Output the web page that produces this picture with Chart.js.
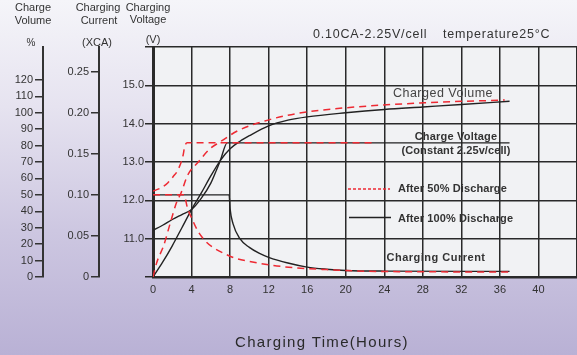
<!DOCTYPE html>
<html>
<head>
<meta charset="utf-8">
<script src="https://cdn.jsdelivr.net/npm/chart.js@4.4.1/dist/chart.umd.min.js"></script>
<style>
  html, body { margin: 0; padding: 0; }
  body {
    width: 577px; height: 355px; overflow: hidden;
    background: linear-gradient(180deg, #f5f5f9 0%, #e6e3f0 30%, #cdc7e1 65%, #b9b1d5 100%);
  }
  #wrap { width: 577px; height: 355px; position: relative; }
  canvas { display: block; }
</style>
</head>
<body>
<div id="wrap"><canvas id="chart" width="577" height="355"></canvas></div>
<script>
// hours on the x axis
const hourTicks = [0, 4, 8, 12, 16, 20, 24, 28, 32, 36, 40];

// charged volume (%), after 100% discharge
const vol100Hours  = [0, 1, 2, 3, 4, 5, 6, 7, 8, 9, 10, 12, 14, 16, 20, 24, 28, 32, 37];
const vol100Values = [0, 9, 19, 30, 41, 51, 61.5, 71, 78, 82.5, 86, 92, 95.5, 97.5, 100, 102, 103.5, 105, 107];

// charged volume (%), after 50% discharge
const vol50Hours  = [0, 0.4, 1.1, 1.8, 2.45, 2.9, 3.6, 4.7, 5.9, 6.9, 8.8, 11.6, 15, 20, 28, 36.5];
const vol50Values = [0, 9, 19, 33, 45.5, 51, 62, 70, 78, 82, 89, 95, 99.6, 103, 106, 107.7];

// charge voltage (V), after 100% discharge
const volt100Hours  = [0, 1, 2, 3, 4, 5, 6, 6.6, 7, 7.7, 37];
const volt100Values = [11.22, 11.35, 11.5, 11.63, 11.76, 12.05, 12.45, 12.8, 13.05, 13.5, 13.5];

// charge voltage (V), after 50% discharge
const volt50Hours  = [0, 1, 1.55, 2.1, 2.6, 3.1, 3.3, 3.55, 22.7];
const volt50Values = [12.24, 12.35, 12.46, 12.62, 12.8, 13.15, 13.41, 13.5, 13.5];

// charging current (xCA), after 100% discharge
const cur100Hours  = [0, 7.9, 8.0, 8.3, 9, 10, 11, 12, 14, 16, 18, 20, 24, 37];
const cur100Values = [0.1, 0.1, 0.083, 0.065, 0.047, 0.036, 0.029, 0.024, 0.017, 0.012, 0.0095, 0.008, 0.0072, 0.0068];

// charging current (xCA), after 50% discharge
const cur50Hours  = [0, 3.2, 3.6, 4, 4.7, 5.5, 6.5, 7.5, 8.5, 10, 12.5, 15, 18, 22, 26, 37];
const cur50Values = [0.1, 0.1, 0.083, 0.072, 0.055, 0.043, 0.034, 0.028, 0.023, 0.019, 0.014, 0.011, 0.009, 0.007, 0.0065, 0.006];

const FONT = "'Liberation Sans', Arial, sans-serif";
const INK = '#333';
const GRID = '#2a2a2a';
const RED = '#ee2a33';

const pts = (xs, ys) => xs.map((x, i) => ({ x: x, y: ys[i] }));

const solid = (data, axis) => ({
  data: data, yAxisID: axis, showLine: true, pointRadius: 0,
  borderColor: '#222', borderWidth: 1.4, cubicInterpolationMode: 'monotone'
});
const dashed = (data, axis) => ({
  data: data, yAxisID: axis, showLine: true, pointRadius: 0,
  borderColor: RED, borderWidth: 1.5, borderDash: [7, 5], cubicInterpolationMode: 'monotone'
});

const plotBg = {
  id: 'plotBg',
  beforeDraw(chart) {
    const { ctx, chartArea: a } = chart;
    ctx.save();
    ctx.fillStyle = '#f1f2f4';
    ctx.fillRect(a.left, a.top, a.right - a.left, a.bottom - a.top);
    ctx.restore();
  }
};

const labels = {
  id: 'labels',
  afterDraw(chart) {
    const ctx = chart.ctx;
    const txt = (s, x, y, size, bold, align, color, spacing) => {
      ctx.font = (bold ? 'bold ' : '') + size + 'px ' + FONT;
      ctx.letterSpacing = (spacing || 0) + 'px';
      ctx.textAlign = align || 'left';
      ctx.textBaseline = 'middle';
      ctx.fillStyle = color || INK;
      ctx.fillText(s, x, y);
    };
    ctx.save();
    // axis headers
    txt('Charge', 33, 8, 11, false, 'center');
    txt('Volume', 33, 21, 11, false, 'center');
    txt('%', 31, 43, 10, false, 'center');
    txt('Charging', 98, 8, 11, false, 'center');
    txt('Current', 99, 21, 11, false, 'center');
    txt('(XCA)', 97, 43, 11, false, 'center');
    txt('Charging', 148, 8, 11, false, 'center');
    txt('Voltage', 148, 20, 11, false, 'center');
    txt('(V)', 153, 40, 11, false, 'center');
    // test condition
    txt('0.10CA-2.25V/cell', 313, 35, 12.5, false, 'left', INK, 0.8);
    txt('temperature25\u00B0C', 443, 35, 12.5, false, 'left', INK, 0.8);
    // curve notes
    txt('Charged Volume', 443, 94, 12.5, false, 'center', '#444', 0.5);
    txt('Charge Voltage', 456, 137, 11, true, 'center', INK, 0.2);
    txt('(Constant 2.25v/cell)', 456, 151, 11, true, 'center', INK, 0.1);
    txt('After 50% Discharge', 398, 189, 11, true, 'left', INK, 0.1);
    txt('After 100% Discharge', 398, 219, 11, true, 'left', INK, 0.1);
    txt('Charging Current', 436, 258, 11, true, 'center', INK, 0.5);
    // legend samples
    ctx.lineWidth = 1.3;
    ctx.strokeStyle = RED;
    ctx.setLineDash([3, 2]);
    ctx.beginPath(); ctx.moveTo(348, 189); ctx.lineTo(390, 189); ctx.stroke();
    ctx.setLineDash([]);
    ctx.strokeStyle = '#222';
    ctx.beginPath(); ctx.moveTo(349, 217.5); ctx.lineTo(391, 217.5); ctx.stroke();
    // x title
    txt('Charging Time(Hours)', 322, 343, 15, false, 'center', '#2a2a2a', 1.3);
    ctx.restore();
  }
};

const sideAxis = (min, max, step, top, weight, width, fmt) => ({
  type: 'linear', position: 'left', min: min, max: max, weight: weight,
  afterBuildTicks: s => { s.ticks = s.ticks.filter(t => t.value <= top + 1e-9); },
  afterFit: s => { s.width = width; },
  grid: { drawOnChartArea: false, color: INK, lineWidth: 1.5, tickLength: 8 },
  border: { color: INK, width: 2 },
  ticks: { stepSize: step, includeBounds: false, autoSkip: false, padding: 2, color: INK,
           font: { family: FONT, size: 11 }, callback: fmt }
});

new Chart(document.getElementById('chart'), {
  type: 'scatter',
  data: {
    datasets: [
      dashed(pts(vol50Hours, vol50Values), 'yVol'),
      dashed(pts(volt50Hours, volt50Values), 'yV'),
      dashed(pts(cur50Hours, cur50Values), 'yI'),
      solid(pts(vol100Hours, vol100Values), 'yVol'),
      solid(pts(volt100Hours, volt100Values), 'yV'),
      solid(pts(cur100Hours, cur100Values), 'yI')
    ]
  },
  options: {
    responsive: false,
    animation: false,
    devicePixelRatio: 1,
    layout: { padding: { top: 47, left: 0, right: 0, bottom: 0 } },
    plugins: { legend: { display: false }, tooltip: { enabled: false } },
    scales: {
      x: {
        type: 'linear', position: 'bottom', min: 0, max: 44,
        afterFit: s => { s.height = 78; s.paddingLeft = 0; s.paddingRight = 0; },
        grid: { color: GRID, lineWidth: 1.5, drawTicks: false },
        border: { color: GRID, width: 2.5 },
        ticks: { stepSize: 4, autoSkip: false, maxRotation: 0, padding: 6, color: INK,
                 font: { family: FONT, size: 11 },
                 callback: v => (hourTicks.includes(v) ? v : '') }
      },
      yV: {
        type: 'linear', position: 'left', min: 10, max: 16, weight: 0,
        afterFit: s => { s.width = 54; },
        grid: { color: GRID, lineWidth: 1.5, tickLength: 8 },
        border: { color: GRID, width: 3 },
        ticks: { stepSize: 1, autoSkip: false, padding: 1, color: INK, font: { family: FONT, size: 11 },
                 callback: v => (v > 10 && v < 16 ? v.toFixed(1) : '') }
      },
      yI: sideAxis(0, 0.28, 0.05, 0.25, 1, 56, v => (v === 0 ? '0' : v.toFixed(2))),
      yVol: sideAxis(0, 140, 10, 120, 2, 43, v => v)
    }
  },
  plugins: [plotBg, labels]
});
</script>
</body>
</html>
